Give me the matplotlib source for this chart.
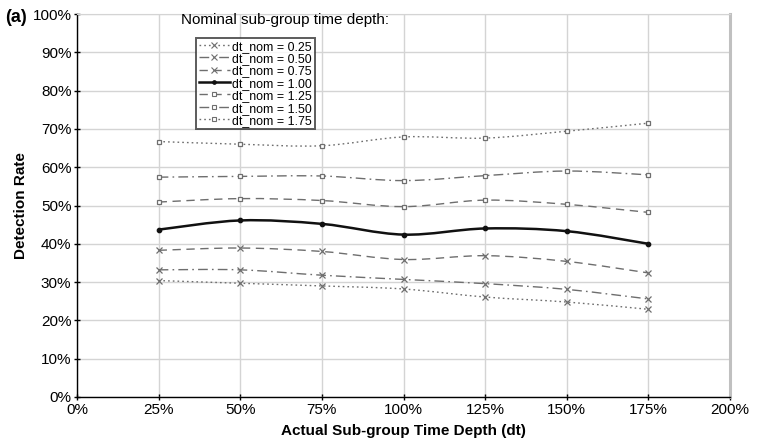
import numpy as np
import matplotlib.pyplot as plt
from matplotlib.path import Path
from matplotlib.patches import PathPatch
from matplotlib.lines import Line2D
from matplotlib.ticker import FuncFormatter, MultipleLocator

plt.rcParams['font.family'] = ['Liberation Sans', 'DejaVu Sans']

# actual sub-group time depth (%)
dt_actual = [25, 50, 75, 100, 125, 150, 175]

# detection rate (%) per nominal time depth
rate_025 = [30.4, 29.7, 29.0, 28.2, 26.1, 24.8, 22.9]
rate_050 = [33.2, 33.2, 31.8, 30.7, 29.6, 28.1, 25.6]
rate_075 = [38.3, 38.9, 38.0, 35.9, 36.9, 35.4, 32.4]
rate_100 = [43.7, 46.1, 45.2, 42.4, 44.0, 43.3, 40.0]
rate_125 = [50.9, 51.8, 51.3, 49.7, 51.4, 50.3, 48.2]
rate_150 = [57.4, 57.6, 57.7, 56.5, 57.8, 59.0, 58.0]
rate_175 = [66.7, 66.0, 65.6, 67.9, 67.6, 69.4, 71.5]

labels = ['dt_nom = 0.25', 'dt_nom = 0.50', 'dt_nom = 0.75', 'dt_nom = 1.00',
          'dt_nom = 1.25', 'dt_nom = 1.50', 'dt_nom = 1.75']
series = [rate_025, rate_050, rate_075, rate_100, rate_125, rate_150, rate_175]

grey = '#6e6e6e'
styles = [
    dict(ls=(0, (1.2, 2.2)), marker='x', color=grey, lw=1.0, ms=5),
    dict(ls=(0, (7, 3, 1.2, 3)), marker='x', color=grey, lw=1.0, ms=5),
    dict(ls=(0, (6, 4)), marker='x', color=grey, lw=1.0, ms=5),
    dict(ls='-', marker='o', color='#111111', lw=1.8, ms=3.2),
    dict(ls=(0, (6, 4)), marker='s', color=grey, lw=1.0, ms=3.5),
    dict(ls=(0, (7, 3, 1.2, 3)), marker='s', color=grey, lw=1.0, ms=3.5),
    dict(ls=(0, (1.2, 2.2)), marker='s', color=grey, lw=1.0, ms=3.5),
]


def smooth_path(x, y):
    # cubic bezier through the points, like a spreadsheet "smoothed line"
    pts = np.column_stack([x, y]).astype(float)
    ext = np.vstack([pts[0], pts, pts[-1]])
    verts = [pts[0]]
    codes = [Path.MOVETO]
    for i in range(len(pts) - 1):
        p0, p1, p2, p3 = ext[i], ext[i + 1], ext[i + 2], ext[i + 3]
        c1 = p1 + (p2 - p0) / 6
        c2 = p2 - (p3 - p1) / 6
        verts += [c1, c2, p2]
        codes += [Path.CURVE4] * 3
    return Path(verts, codes)


fig = plt.figure(figsize=(7.59, 4.47), dpi=100)
ax = fig.add_axes([77 / 759, 1 - 397 / 447, 653 / 759, 383 / 447])

handles = []
for vals, st, lab in zip(series, styles, labels):
    patch = PathPatch(smooth_path(dt_actual, vals), fill=False, edgecolor=st['color'],
                      lw=st['lw'], linestyle=st['ls'], zorder=3)
    ax.add_patch(patch)
    mfc = 'white' if st['marker'] == 's' else st['color']
    ax.plot(dt_actual, vals, ls='none', marker=st['marker'], color=st['color'],
            ms=st['ms'], mfc=mfc, mew=0.9, zorder=4)
    handles.append(Line2D([], [], ls=st['ls'], marker=st['marker'], color=st['color'],
                          lw=st['lw'], ms=st['ms'] * 0.8, mfc=mfc, mew=0.8, label=lab))

ax.set_xlim(0, 200)
ax.set_ylim(0, 100)
ax.xaxis.set_major_locator(MultipleLocator(25))
ax.yaxis.set_major_locator(MultipleLocator(10))
pct = FuncFormatter(lambda v, p: f'{v:.0f}%')
ax.xaxis.set_major_formatter(pct)
ax.yaxis.set_major_formatter(pct)
ax.grid(True, color='#d4d4d4', lw=1.0, zorder=0)
ax.set_axisbelow(True)

ax.spines['top'].set_color('#d4d4d4')
ax.spines['right'].set_color('#c0c0c0')
ax.spines['right'].set_linewidth(2.2)
ax.spines['left'].set_linewidth(1.0)
ax.spines['bottom'].set_linewidth(1.0)
ax.tick_params(axis='both', labelsize=11, length=4, width=1.0, direction='inout', pad=2)

ax.set_xlabel('Actual Sub-group Time Depth (dt)', fontsize=11, fontweight='bold', labelpad=5)
ax.set_ylabel('Detection Rate', fontsize=11, fontweight='bold', labelpad=3)

fig.text(5 / 759, 1 - 17 / 447, '(a)', fontsize=13, fontweight='bold', va='center', ha='left')

ax.text(0.318, 0.985, 'Nominal sub-group time depth:', transform=ax.transAxes,
        ha='center', va='center', fontsize=11)
leg = ax.legend(handles=handles, loc='upper left', bbox_to_anchor=(0.183, 0.938),
                fontsize=8.9, handlelength=2.5, handletextpad=0.2, labelspacing=0.0,
                borderpad=0.2, frameon=True, fancybox=False, borderaxespad=0,
                handleheight=0.9)
leg.get_frame().set_edgecolor('#333333')
leg.get_frame().set_linewidth(1.4)

fig.savefig('out.png', dpi=100)
